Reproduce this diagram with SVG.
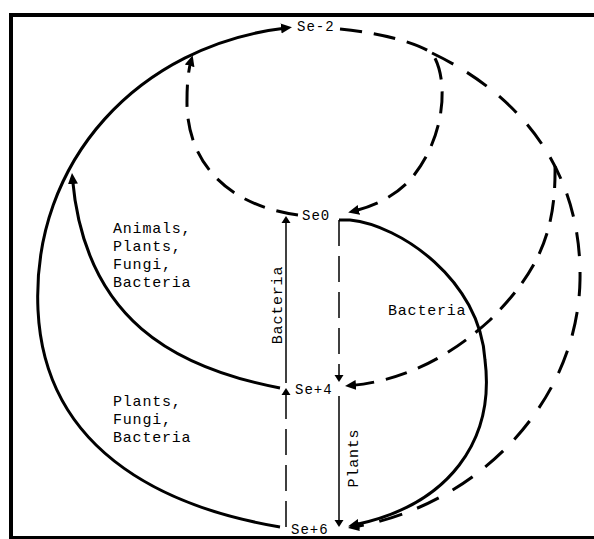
<svg xmlns="http://www.w3.org/2000/svg" width="594" height="539" viewBox="0 0 594 539">
<style>
.node{font-family:"Liberation Mono","DejaVu Sans Mono",monospace;font-size:14px;fill:#000;letter-spacing:1px}
.lbl{font-family:"Liberation Mono","DejaVu Sans Mono",monospace;font-size:15px;fill:#000;letter-spacing:0.8px}
.thick{fill:none;stroke:#000;stroke-width:3}
.dash{fill:none;stroke:#000;stroke-width:3;stroke-dasharray:22 12}
.dashL{fill:none;stroke:#000;stroke-width:3;stroke-dasharray:24 16}
.thin{fill:none;stroke:#000;stroke-width:1.5}
.thinD{fill:none;stroke:#000;stroke-width:1.5;stroke-dasharray:26 10}
</style>
<defs>
<marker id="ah" markerUnits="userSpaceOnUse" markerWidth="12" markerHeight="12" viewBox="0 0 12 12" refX="5" refY="6" orient="auto"><path d="M0,1 L11,6 L0,11 z" fill="#000"/></marker>
<marker id="ahs" markerUnits="userSpaceOnUse" markerWidth="9" markerHeight="10" viewBox="0 0 8 10" refX="3" refY="5" orient="auto"><path d="M0,0.5 L7,5 L0,9.5 z" fill="#000"/></marker>
</defs>
<rect x="11" y="15" width="600" height="523" fill="#fff" stroke="#000" stroke-width="4"/>
<g id="connectors">
<path class="thick" d="M280,527 C180,510 45,460 38,310 C31,160 140,45 286,28" marker-end="url(#ah)"/>
<path class="thick" d="M280,388 C175,368 85,320 72.5,179" marker-end="url(#ah)"/>
<path class="dash" d="M298,215 C225,205 186,160 187,100 C187,80 189,68 191,61" marker-end="url(#ah)"/>
<path class="dash" d="M340,29 C380,33 415,42 432,53 C450,80 445,140 410,180 C395,196 375,206 354,211" marker-end="url(#ah)"/>
<path class="dashL" d="M432,53 C520,95 582,170 580,280 C578,400 480,505 354,527" marker-end="url(#ah)"/>
<path class="dash" d="M555,166 C556,230 540,270 490,320 C455,352 410,380 351,385.5" marker-end="url(#ah)"/>
<path class="thick" d="M339,220 L350,220 C400,225 480,280 485,360 C495,440 450,505 354,525" marker-end="url(#ah)"/>
<path class="thin" d="M286,383 L286,220" marker-end="url(#ahs)"/>
<path class="thinD" d="M339,220 L339,378" marker-end="url(#ahs)"/>
<path class="thin" d="M339,396 L339,523" marker-end="url(#ahs)"/>
<path class="thinD" d="M286,527 L286,392" marker-end="url(#ahs)"/>
</g>
<g id="node-se-2"><text class="node" x="297" y="31">Se-2</text></g>
<g id="node-se0"><text class="node" x="302" y="220">Se0</text></g>
<g id="node-se4"><text class="node" x="295" y="394">Se+4</text></g>
<g id="node-se6"><text class="node" x="291" y="534">Se+6</text></g>
<g id="labels">
<text class="lbl" x="113" y="233">Animals,</text>
<text class="lbl" x="113" y="251">Plants,</text>
<text class="lbl" x="113" y="269">Fungi,</text>
<text class="lbl" x="113" y="287">Bacteria</text>
<text class="lbl" x="113" y="406">Plants,</text>
<text class="lbl" x="113" y="424">Fungi,</text>
<text class="lbl" x="113" y="442">Bacteria</text>
<text class="lbl" x="388" y="315">Bacteria</text>
<text class="lbl" text-anchor="middle" transform="translate(282,305) rotate(-90)">Bacteria</text>
<text class="lbl" text-anchor="middle" transform="translate(358,458) rotate(-90)">Plants</text>
</g>
</svg>
